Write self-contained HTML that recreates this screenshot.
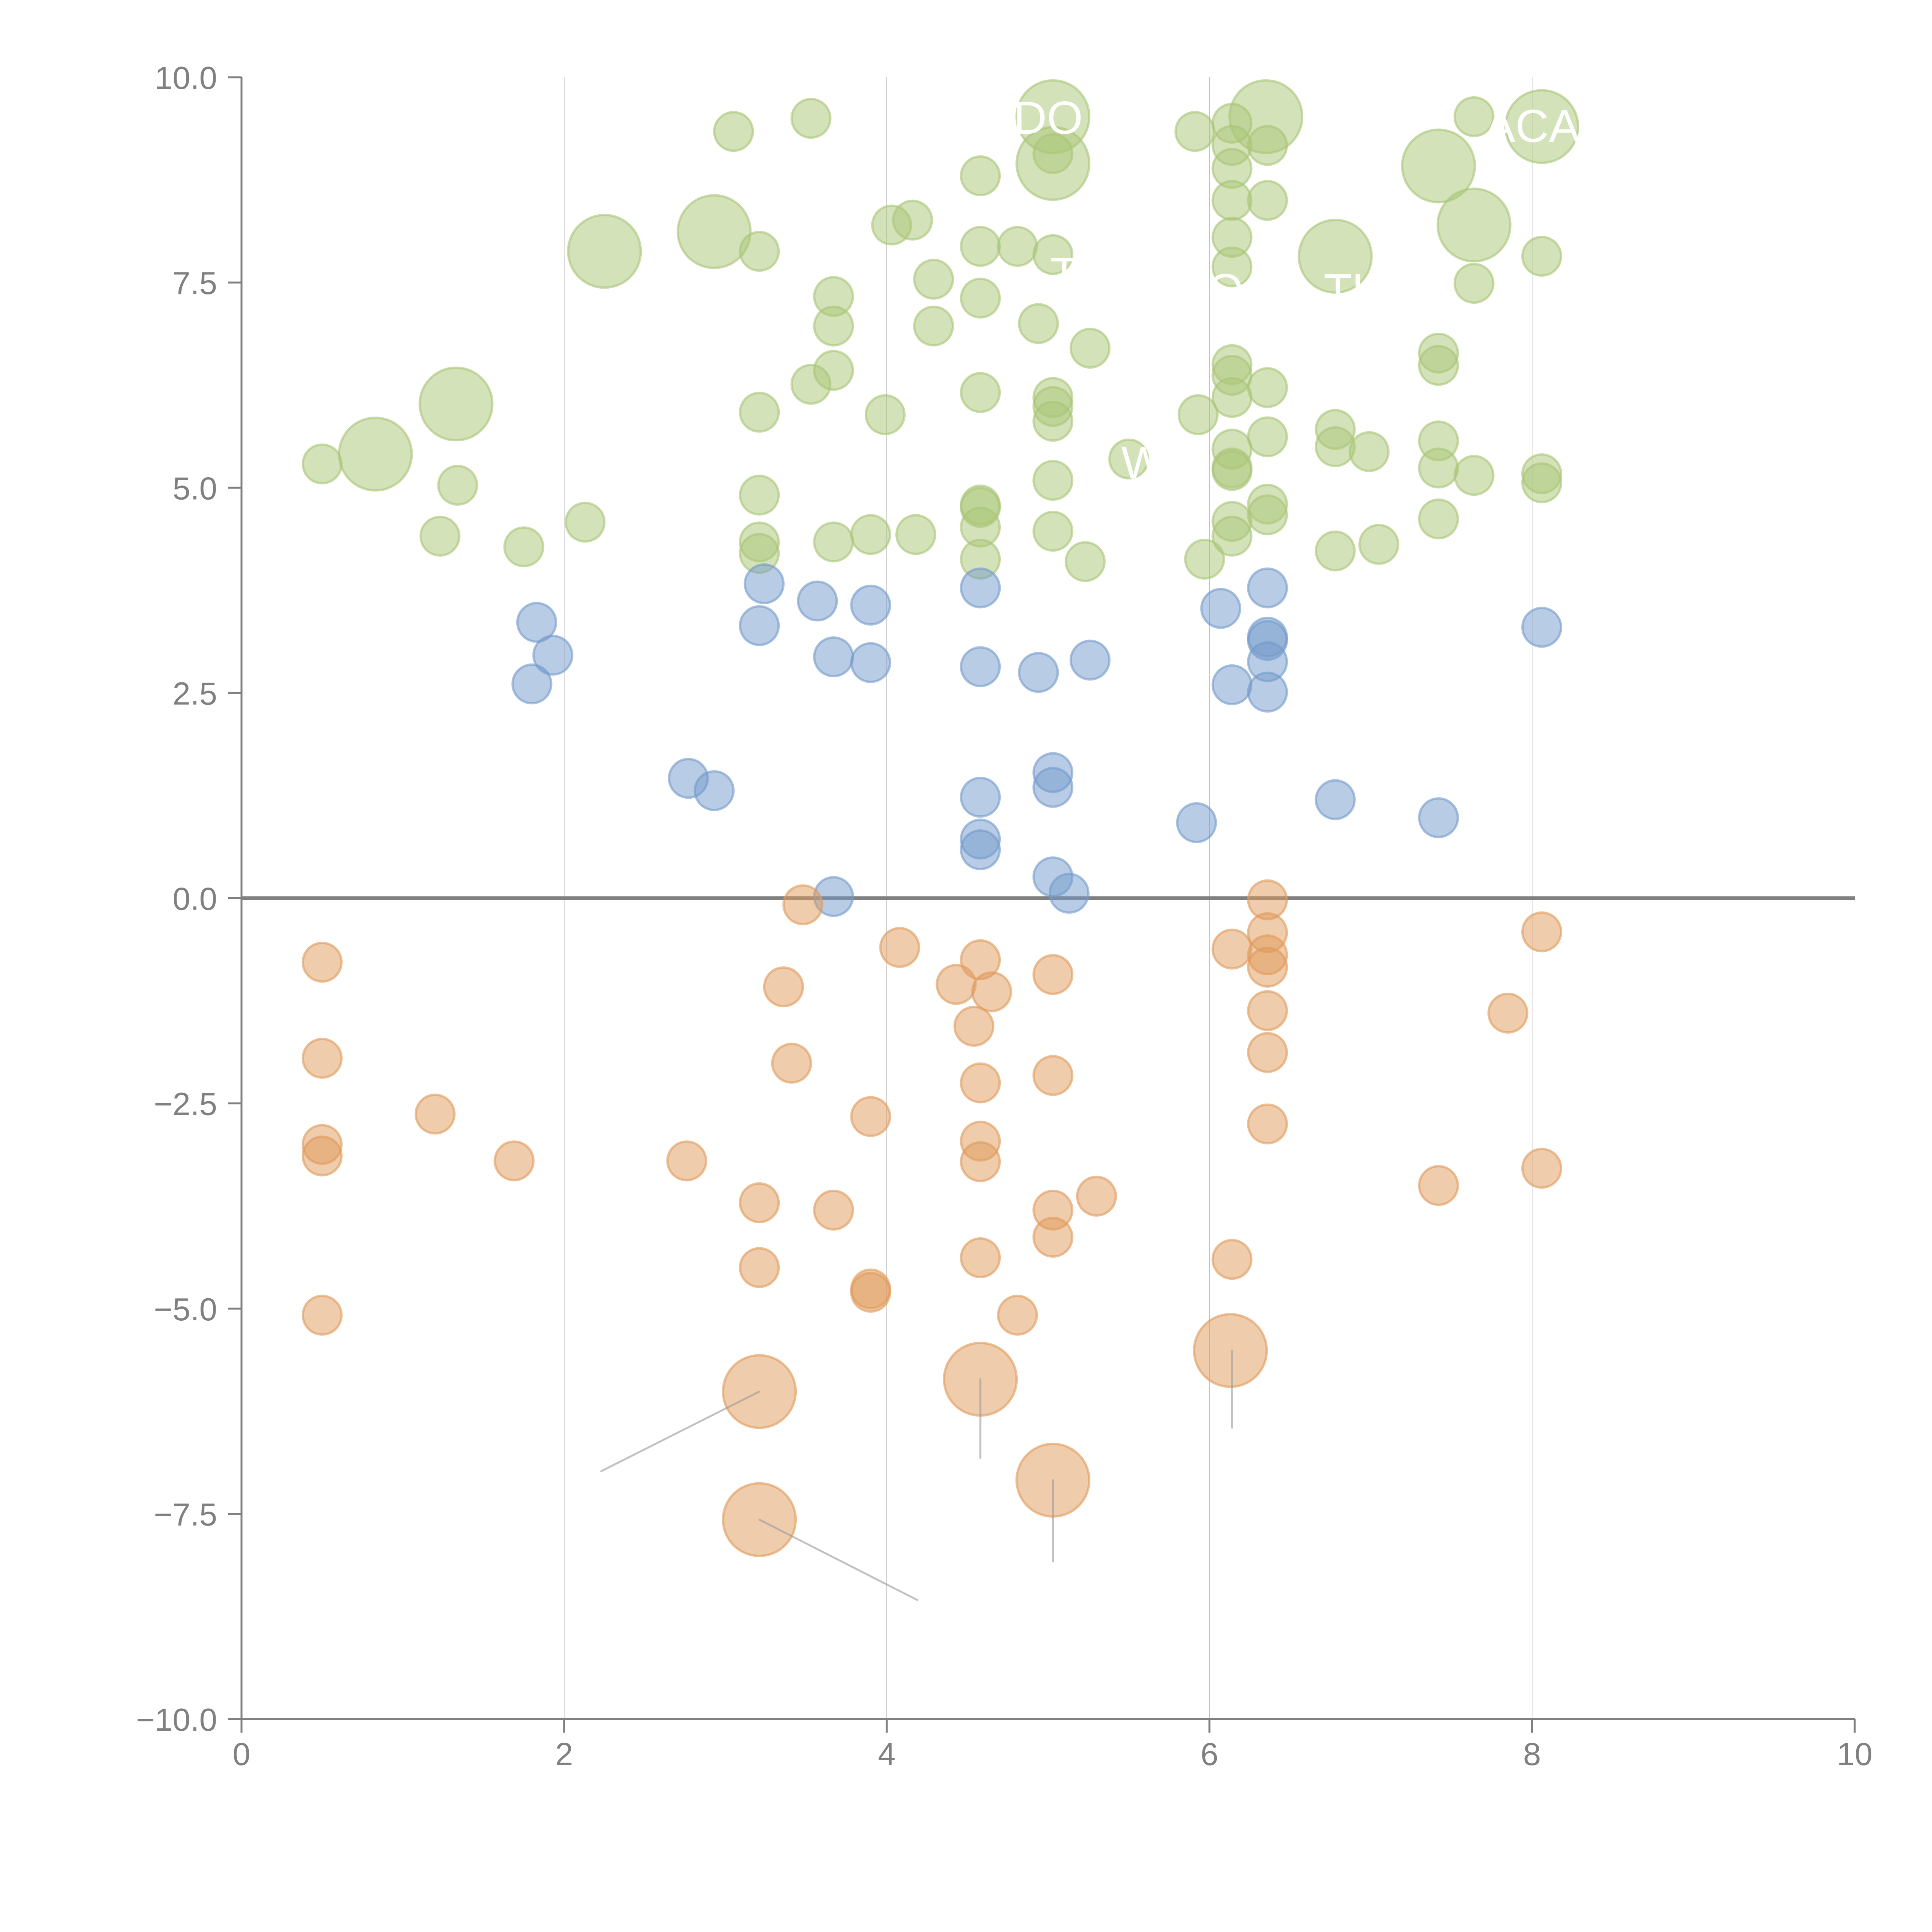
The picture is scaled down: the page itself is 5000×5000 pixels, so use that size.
<!DOCTYPE html>
<html><head><meta charset="utf-8"><style>html,body{margin:0;padding:0;background:#fff}svg{display:block}</style></head>
<body>
<svg id="chart" width="5000" height="5000" viewBox="0 0 5000 5000" xmlns="http://www.w3.org/2000/svg" font-family="'Liberation Sans', sans-serif"></svg>
<script>
const xTicks = [0, 2, 4, 6, 8, 10];
const xTickLabels = ["0", "2", "4", "6", "8", "10"];
const yTicks = [-10, -7.5, -5, -2.5, 0, 2.5, 5, 7.5, 10];
const yTickLabels = ["\u221210.0", "\u22127.5", "\u22125.0", "\u22122.5", "0.0", "2.5", "5.0", "7.5", "10.0"];

const greenX = [3.05,3.53,5.03,6.35,6.14,5.91,7.64,8.06,6.14,6.36,5.03,5.03,6.14,7.42,4.58,6.14,6.36,4.03,4.16,2.93,7.64,6.14,2.25,3.21,4.58,4.81,5.03,8.06,6.78,6.14,4.29,7.64,3.67,4.58,3.67,4.29,4.94,5.26,7.42,6.14,7.42,3.67,3.53,6.14,6.36,4.58,5.03,1.33,6.14,5.03,3.21,3.99,5.93,5.03,6.78,6.36,7.42,6.14,6.78,6.99,0.83,5.50,0.50,6.14,7.42,7.64,8.06,6.14,5.03,1.34,8.06,3.21,6.36,4.58,4.58,6.36,7.42,6.14,2.13,4.58,5.03,3.90,4.18,1.23,6.14,3.21,3.67,7.05,1.75,6.78,3.21,4.58,5.97,5.23];
const greenY = [9.34,9.50,9.52,9.52,9.44,9.34,9.52,9.40,9.17,9.17,9.07,8.95,8.89,8.92,8.80,8.50,8.50,8.20,8.26,8.12,8.20,8.05,7.88,7.88,7.94,7.94,7.84,7.82,7.82,7.69,7.54,7.49,7.33,7.31,6.97,6.97,7.00,6.70,6.64,6.50,6.49,6.43,6.26,6.37,6.22,6.16,6.10,6.02,6.10,5.99,5.92,5.89,5.89,5.81,5.71,5.62,5.57,5.47,5.50,5.44,5.41,5.35,5.29,5.24,5.24,5.15,5.17,5.21,5.09,5.03,5.06,4.91,4.80,4.79,4.76,4.67,4.62,4.59,4.58,4.52,4.47,4.43,4.43,4.41,4.41,4.34,4.34,4.31,4.28,4.23,4.20,4.13,4.13,4.10];
const greenSize = [1,1,2,2,1,1,1,2,1,1,1,2,1,2,1,1,1,1,1,2,2,1,2,1,1,1,1,1,2,1,1,1,1,1,1,1,1,1,1,1,1,1,1,1,1,1,1,2,1,1,1,1,1,1,1,1,1,1,1,1,2,1,1,1,1,1,1,1,1,1,1,1,1,1,1,1,1,1,1,1,1,1,1,1,1,1,1,1,1,1,1,1,1,1];

const blueX = [4.58,3.24,6.36,3.57,3.90,6.07,1.83,3.21,8.06,6.36,6.36,1.93,3.67,5.26,3.90,6.36,4.58,4.94,1.80,6.14,6.36,2.77,2.93,5.03,5.03,4.58,6.78,7.42,5.92,4.58,4.58,5.03,3.67,5.13];
const blueY = [3.78,3.83,3.78,3.62,3.57,3.53,3.36,3.32,3.30,3.18,3.14,2.96,2.94,2.90,2.87,2.88,2.82,2.75,2.61,2.60,2.51,1.46,1.31,1.53,1.35,1.23,1.20,0.98,0.92,0.72,0.59,0.26,0.02,0.06];

const orangeX = [3.48,6.36,6.36,8.06,4.08,6.14,6.36,6.36,0.50,4.58,5.03,4.43,3.36,4.65,6.36,7.85,4.54,6.36,0.50,3.41,5.03,4.58,1.20,3.90,6.36,4.58,0.50,0.50,1.69,2.76,4.58,8.06,7.42,5.30,3.21,3.67,5.03,5.03,4.58,6.14,3.21,3.90,3.90,0.50,4.81,6.13,4.58,3.21,5.03,3.21];
const orangeY = [-0.08,-0.02,-0.42,-0.41,-0.60,-0.62,-0.69,-0.84,-0.78,-0.75,-0.93,-1.05,-1.08,-1.14,-1.37,-1.40,-1.56,-1.88,-1.95,-2.01,-2.16,-2.25,-2.63,-2.66,-2.75,-2.96,-3.00,-3.14,-3.20,-3.20,-3.21,-3.29,-3.50,-3.63,-3.71,-3.80,-3.80,-4.13,-4.38,-4.40,-4.50,-4.76,-4.80,-5.08,-5.08,-5.51,-5.86,-6.01,-7.09,-7.57];
const orangeSize = [1,1,1,1,1,1,1,1,1,1,1,1,1,1,1,1,1,1,1,1,1,1,1,1,1,1,1,1,1,1,1,1,1,1,1,1,1,1,1,1,1,1,1,1,1,2,2,2,2,2];

const leaderFromX = [3.21,3.21,4.58,5.03,6.14];
const leaderFromY = [-6.01,-7.57,-5.86,-7.09,-5.51];
const leaderToX = [2.23,4.19,4.58,5.03,6.14];
const leaderToY = [-6.98,-8.55,-6.82,-8.08,-6.45];

const NS = "http://www.w3.org/2000/svg";
const svg = document.getElementById("chart");
const X0 = 625, X1 = 4800, Y0 = 4449, Y1 = 200;
function sx(v){ return X0 + (v - 0) / 10 * (X1 - X0); }
function sy(v){ return Y0 - (v + 10) / 20 * (Y0 - Y1); }
function rad(s){ return s === 2 ? 94 : 50; }
function mk(tag, attrs){ const e = document.createElementNS(NS, tag); for (const k in attrs) e.setAttribute(k, attrs[k]); svg.appendChild(e); return e; }

// grid lines
[2,4,6,8].forEach(v => {
  const g = mk("line", {x1: sx(v), x2: sx(v), y1: Y1, y2: Y0, stroke: "#999", "stroke-width": 2, "stroke-opacity": 0.6});
  
  
});

// axes
const ya = mk("line", {x1: X0, x2: X0, y1: Y1, y2: Y0, stroke: "#808080", "stroke-width": 5});


const xa = mk("line", {x1: X0, x2: X1, y1: Y0, y2: Y0, stroke: "#808080", "stroke-width": 5});



xTicks.forEach((v, i) => {
  const t = mk("line", {x1: sx(v), x2: sx(v), y1: Y0, y2: Y0 + 35, stroke: "#808080", "stroke-width": 5});
  
  
  const l = mk("text", {x: sx(v), y: 4568, "text-anchor": "middle", "font-size": 83, fill: "#808080"});
  l.textContent = xTickLabels[i];
  
  
});
yTicks.forEach((v, i) => {
  const t = mk("line", {x1: X0 - 35, x2: X0, y1: sy(v), y2: sy(v), stroke: "#808080", "stroke-width": 5});
  
  
  const l = mk("text", {x: 562, y: sy(v) + 30, "text-anchor": "end", "font-size": 83, fill: "#808080"});
  l.textContent = yTickLabels[i];
  
  
});

// zero line
const z = mk("line", {x1: X0, x2: X1, y1: sy(0), y2: sy(0), stroke: "#808080", "stroke-width": 10});



function drawSeries(xs, ys, sizes, color, name){
  xs.forEach((x, i) => {
    const c = mk("circle", {cx: sx(x), cy: sy(ys[i]), r: rad(sizes ? sizes[i] : 1), fill: color, "fill-opacity": 0.5, stroke: color, "stroke-opacity": 0.6, "stroke-width": 6});
    
    
  });
}
drawSeries(greenX, greenY, greenSize, "#a9c576", "green-bubble");
drawSeries(blueX, blueY, null, "#7399cc", "blue-bubble");
drawSeries(orangeX, orangeY, orangeSize, "#e09a5a", "orange-bubble");

leaderFromX.forEach((x, i) => {
  const l = mk("line", {x1: sx(x), y1: sy(leaderFromY[i]), x2: sx(leaderToX[i]), y2: sy(leaderToY[i]), stroke: "#999", "stroke-opacity": 0.6, "stroke-width": 5, "stroke-linecap": "round"});
  
  
});

// white labels (mostly invisible on white)
const labelText = ["DO", "ACA", "WO", "T", "O", "TU"];
const labelX = [5.0, 8.0, 5.7, 5.1, 6.1, 6.9];
const labelY = [9.5, 9.4, 5.3, 7.6, 7.4, 7.4];
labelText.forEach((t, i) => {
  const l = mk("text", {x: sx(labelX[i]), y: sy(labelY[i]) + 40, "text-anchor": "middle", "font-size": 120, fill: "#fff"});
  l.textContent = t;
  
  
});
</script>
</body></html>
